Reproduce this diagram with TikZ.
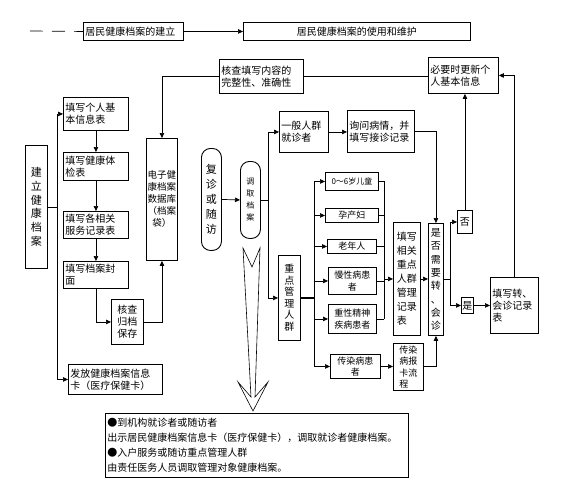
\documentclass[tikz,border=0pt]{standalone}
\usepackage{fontspec}
\setmainfont{Noto Sans CJK SC}
\usetikzlibrary{arrows.meta}
\begin{document}
\begin{tikzpicture}[x=1pt,y=-1pt,
  box/.style={draw, line width=0.9pt, anchor=north west, inner sep=2pt, align=left, font=\fontsize{10}{12}\selectfont},
  B/.code 2 args={\pgfmathsetmacro\myBtw{#1-4}\edef\myBtmp{\noexpand\tikzset{minimum width=#1pt,minimum height=#2pt,text width=\myBtw pt}}\myBtmp},
  V/.style 2 args={minimum width=#1pt,minimum height=#2pt,align=center,inner sep=0pt},
  arr/.style={line width=0.7pt,-{Triangle[length=5pt,width=4.5pt]}},
  ln/.style={line width=0.7pt}]
\useasboundingbox (0,0) rectangle (563,491);

% top row
\coordinate (ds) at (30,31);
\node[box,B={100}{18}] (t1) at (83,22) {居民健康档案的建立};
\node[box,B={227}{18},align=center] (t2) at (243,22) {居民健康档案的使用和维护};
\draw[ln,dash pattern=on 13pt off 9pt] (ds) -- (t1.west);
\draw[arr] (t1.east) -- (t2.west);

% top boxes
\node[box,B={84}{34}] (hc) at (219,59) {核查填写内容的\\完整性、准确性};
\node[box,B={70}{36}] (gx) at (428,57) {必要时更新个\\人基本信息};

% left column
\node[box,V={22}{123},font=\fontsize{11}{13.7}\selectfont] (jl) at (25,145) {建\\立\\健\\康\\档\\案};
\node[box,B={65}{33}] (f1) at (63,97) {填写个人基\\本信息表};
\node[box,B={65}{28}] (f2) at (63,152) {填写健康体\\检表};
\node[box,B={65}{27}] (f3) at (63,211) {填写各相关\\服务记录表};
\node[box,B={65}{27}] (f4) at (63,261) {填写档案封\\面};
\node[box,V={32}{45}] (hg) at (111,299) {核查\\归档\\保存};
\node[box,B={94}{30}] (ff) at (68,364) {发放健康档案信息\\卡（医疗保健卡）};
\node[box,V={31}{122},font=\fontsize{9.5}{12}\selectfont] (db) at (146,138) {电子健\\康档案\\数据库\\（档案\\袋）};

\coordinate (b1) at (57,0);
\draw[ln] (jl.east) -- (jl.east -| b1);
\draw[arr] (b1 |- ff.west) |- (f1.west);
\draw[arr] (b1 |- ff.west) -- (ff.west);
\draw[arr] (f1.south) -- (f2.north);
\draw[arr] (f2.south) -- (f3.north);
\draw[arr] (f3.south) -- (f4.north);
\draw[arr] (f4.south) |- (hg.west);
\draw[arr] (hg.east) -| (db.south);
\draw[arr] (hc.west) -| (db.north);
\draw[ln] (hc.east) -- (hc.east -| gx.west);

% middle
\node[box,V={20}{102},rounded corners=9pt,font=\fontsize{11}{15}\selectfont] (fz) at (201,148) {复\\诊\\或\\随\\访};
\node[box,V={20}{77},rounded corners=9pt,font=\fontsize{8}{12}\selectfont] (dq) at (240,161) {调\\取\\档\\案};
\draw[arr] (fz.east) -- (dq.west);

\node[box,B={49}{41}] (yb) at (279,111) {一般人群\\就诊者};
\node[box,B={67}{42}] (xw) at (347,110) {询问病情，并\\填写接诊记录};
\node[box,V={22}{85},font=\fontsize{10}{11.5}\selectfont] (zd) at (278,255) {重\\点\\管\\理\\人\\群};

\coordinate (b2) at (268,0);
\draw[ln] (dq.east) -- (dq.east -| b2);
\draw[arr] (b2 |- dq.east) |- (yb.west);
\draw[arr] (b2 |- dq.east) |- (zd.west);
\draw[arr] (yb.east) -- (yb.east -| xw.west);

% categories
\node[box,V={53}{18},font=\fontsize{8}{10}\selectfont] (c1) at (325,172) {0～6岁儿童};
\node[box,V={53}{14},font=\fontsize{9}{11}\selectfont] (c2) at (325,208) {孕产妇};
\node[box,V={49}{14},font=\fontsize{9}{11}\selectfont] (c3) at (327,239) {老年人};
\node[box,V={48}{27},font=\fontsize{9}{11.5}\selectfont] (c4) at (328,267) {慢性病患\\者};
\node[box,V={48}{29},font=\fontsize{9}{11.5}\selectfont] (c5) at (328,304) {重性精神\\疾病患者};
\node[box,V={50}{24},font=\fontsize{9}{11.5}\selectfont] (c6) at (330,354) {传染病患\\者};
\node[box,V={30}{45},align=left,inner sep=2pt,font=\fontsize{9}{11.5}\selectfont] (jb) at (393,343) {传染\\病报\\卡流\\程};

\coordinate (b3) at (314,0);
\draw[ln,line width=1.2pt] (zd.east) -- (zd.east -| b3);
\draw[ln] (b3 |- c1.west) -- (b3 |- c6.west);
\foreach \c in {c1,c2,c3,c4,c5,c6} {\draw[arr] (b3 |- \c.west) -- (\c.west);}

\node[box,V={27}{113},align=left,inner sep=2pt,font=\fontsize{10}{14}\selectfont] (tx) at (393,222) {填写\\相关\\重点\\人群\\管理\\记录\\表};
\coordinate (b4) at (384,0);
\foreach \c in {c1,c2,c3,c4,c5} {\draw[ln] (\c.east) -- (\c.east -| b4);}
\draw[ln] (b4 |- c1.east) -- (b4 |- c5.east);
\draw[arr] (b4 |- tx.west) -- (tx.west);
\draw[arr] (c6.east) -- (c6.east -| jb.west);

% decision
\node[box,V={15}{112},font=\fontsize{10}{13.3}\selectfont] (sf) at (428,223) {是\\否\\需\\要\\转\\、\\会\\诊};
\draw[arr] (tx.east) -- (tx.east -| sf.west);
\draw[arr] (xw.east) -| (sf.north);
\draw[arr] (jb.east) -| (sf.south);

\node[box,V={15}{23}] (fo) at (457,210) {否};
\node[box,V={12}{16}] (sh) at (461,297) {是};
\node[box,B={48}{56}] (zh) at (490,277) {填写转、\\会诊记录\\表};

\coordinate (b5) at (450,0);
\draw[ln] (sf.east) -- (sf.east -| b5);
\draw[arr] (b5 |- sf.east) |- (fo.west);
\draw[arr] (b5 |- sf.east) |- (sh.west);
\draw[arr] (fo.north) -- (fo.north |- gx.south);
\draw[arr] (sh.east) -- (zh.west);
\draw[arr] (zh.north) |- (gx.east);

% big open arrow
\draw[line width=0.6pt,fill=white] (243,248) -- (252,267) -- (260,248) -- (255,397) -- (268,382) -- (253,411) -- (238,382) -- (251,397) -- cycle;

% bottom box
\node[box,B={303}{64},font=\fontsize{10}{15}\selectfont] (bt) at (105,413) {●到机构就诊者或随访者\\出示居民健康档案信息卡（医疗保健卡），调取就诊者健康档案。\\●入户服务或随访重点管理人群\\由责任医务人员调取管理对象健康档案。};
\end{tikzpicture}
\end{document}
